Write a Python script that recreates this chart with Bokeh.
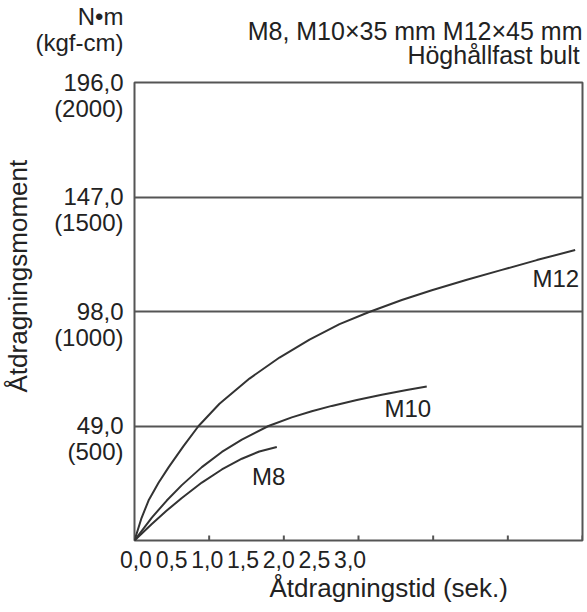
import math
from bokeh.plotting import figure
from bokeh.models import Range1d, LinearAxis, FixedTicker, Grid, Title
from bokeh.core.properties import value
from bokeh.embed import file_html
from bokeh.resources import INLINE

# ---------------- data ----------------
m8_time = [0, 0.116, 0.216, 0.317, 0.451, 0.585, 0.719, 0.836, 0.953]
m8_torque = [0, 7.1, 12.8, 18.2, 24.8, 30.4, 35.0, 38.1, 40.0]

m10_time = [0, 0.116, 0.216, 0.317, 0.451, 0.585, 0.719, 0.897, 1.053,
            1.187, 1.321, 1.489, 1.656, 1.823, 1.957]
m10_torque = [0, 9.8, 17.1, 23.7, 31.4, 37.9, 43.2, 49.0, 52.7,
              55.3, 57.6, 60.1, 62.4, 64.4, 65.9]

m12_time = [0, 0.047, 0.094, 0.161, 0.228, 0.328, 0.429, 0.569, 0.770, 0.971,
            1.172, 1.373, 1.567, 1.790, 1.991, 2.226, 2.460, 2.694, 2.951]
m12_torque = [0, 9.6, 17.1, 24.7, 31.3, 40.4, 49.0, 58.5, 69.3, 78.3,
              86.0, 92.6, 97.7, 102.9, 107.1, 111.6, 115.8, 120.0, 124.3]

series_names = ["M8", "M10", "M12"]

x_ticks = [0, 0.5, 1.0, 1.5, 2.0, 2.5, 3.0]
x_tick_labels = ["0,0", "0,5", "1,0", "1,5", "2,0", "2,5", "3,0"]

y_ticks = [49, 98, 147, 196]
y_nm_labels = ["49,0", "98,0", "147,0", "196,0"]
y_kgf_labels = ["(500)", "(1000)", "(1500)", "(2000)"]
grid_ticks = [49, 98, 147]

title_line1 = "M8, M10\u00d735 mm M12\u00d745 mm"
title_line2 = "H\u00f6gh\u00e5llfast bult"
unit_text = "N\u2022m\n(kgf-cm)"
x_title = "\u00c5tdragningstid (sek.)"
y_title = "\u00c5tdragningsmoment"

X_MIN, X_MAX = 0, 3.0
Y_MIN, Y_MAX = 0, 196

# ---------------- styling ----------------
FONT = "Liberation Sans"
LINE = "#333333"
FRAME = "#555555"
TEXT = "#222222"

# right-align the second title line under the first (title lines are left-aligned)
title_text = title_line1 + "\n" + "\u00a0" * 23 + title_line2

p = figure(frame_width=448, frame_height=458,
           min_border_left=133, min_border_right=6,
           min_border_top=82, min_border_bottom=72,
           x_range=Range1d(X_MIN, X_MAX), y_range=Range1d(Y_MIN, Y_MAX),
           x_axis_location=None, y_axis_location=None,
           title=title_text,
           toolbar_location=None, output_backend="svg")
p.grid.visible = False
p.background_fill_color = "white"
p.border_fill_color = "white"
p.outline_line_color = FRAME
p.outline_line_width = 2

p.title.align = "right"
p.title.vertical_align = "middle"
p.title.text_font = FONT
p.title.text_font_size = "25px"
p.title.text_font_style = "normal"
p.title.text_color = TEXT
p.title.text_line_height = 0.85
p.title.standoff = 25

p.add_layout(Grid(dimension=1, ticker=FixedTicker(ticks=grid_ticks),
                  grid_line_color=FRAME, grid_line_width=2), "center")

# inward tick marks on the time axis
p.scatter(x=x_ticks, y=[Y_MIN] * len(x_ticks), marker="dash", angle=math.pi / 2,
          size=10, line_color=FRAME, line_width=2)

# bottom axis: crowded tick labels (as in the original)
p.extra_x_ranges = {"xlab": Range1d(-0.04, 12.51)}
xlab_idx = list(range(len(x_tick_labels)))
xlab_ax = LinearAxis(x_range_name="xlab", ticker=FixedTicker(ticks=xlab_idx),
                     major_label_overrides=dict(zip(xlab_idx, x_tick_labels)),
                     axis_line_color=None, major_tick_line_color=None,
                     minor_tick_line_color=None,
                     major_tick_in=0, major_tick_out=0, major_label_standoff=10,
                     major_label_text_font=FONT, major_label_text_font_size="23px",
                     major_label_text_color=TEXT)
p.add_layout(xlab_ax, "below")
p.add_layout(Title(text=x_title, align="left", offset=135, standoff=1,
                   text_font=FONT, text_font_size="26px", text_font_style="normal",
                   text_color=TEXT), "below")

# left axis: two-line labels, first line centred on the grid value,
# plus the unit caption on top of the axis
shift = 5.46
unit_pos = Y_MAX + shift - 0.01
p.extra_y_ranges = {"ylab": Range1d(Y_MIN + shift, Y_MAX + shift)}
overrides = {t: f"{a}\n{b}" for t, a, b in zip(y_ticks, y_nm_labels, y_kgf_labels)}
overrides[unit_pos] = unit_text + "\n" * 4
ylab_ax = LinearAxis(y_range_name="ylab", ticker=FixedTicker(ticks=y_ticks + [unit_pos]),
                     major_label_overrides=overrides,
                     axis_line_color=None, major_tick_line_color=None,
                     minor_tick_line_color=None,
                     major_tick_in=0, major_tick_out=0, major_label_standoff=11,
                     major_label_text_font=FONT, major_label_text_font_size="24px",
                     major_label_text_color=TEXT, major_label_text_line_height=0.98)
p.add_layout(ylab_ax, "left")
p.add_layout(Title(text=y_title, align="left", offset=148, standoff=0,
                   text_font=FONT, text_font_size="26px", text_font_style="normal",
                   text_color=TEXT), "left")

for xs, ys in [(m8_time, m8_torque), (m10_time, m10_torque), (m12_time, m12_torque)]:
    p.line(xs, ys, line_color=LINE, line_width=2)

label_x = [0.899, 1.830, 2.821]
label_y = [27.4, 56.5, 112.1]
p.text(x=label_x, y=label_y, text=series_names, text_font=value(FONT),
       text_font_size="24px", text_color=TEXT, text_align="center",
       text_baseline="middle")

open("out.html", "w").write(file_html(p, INLINE))
